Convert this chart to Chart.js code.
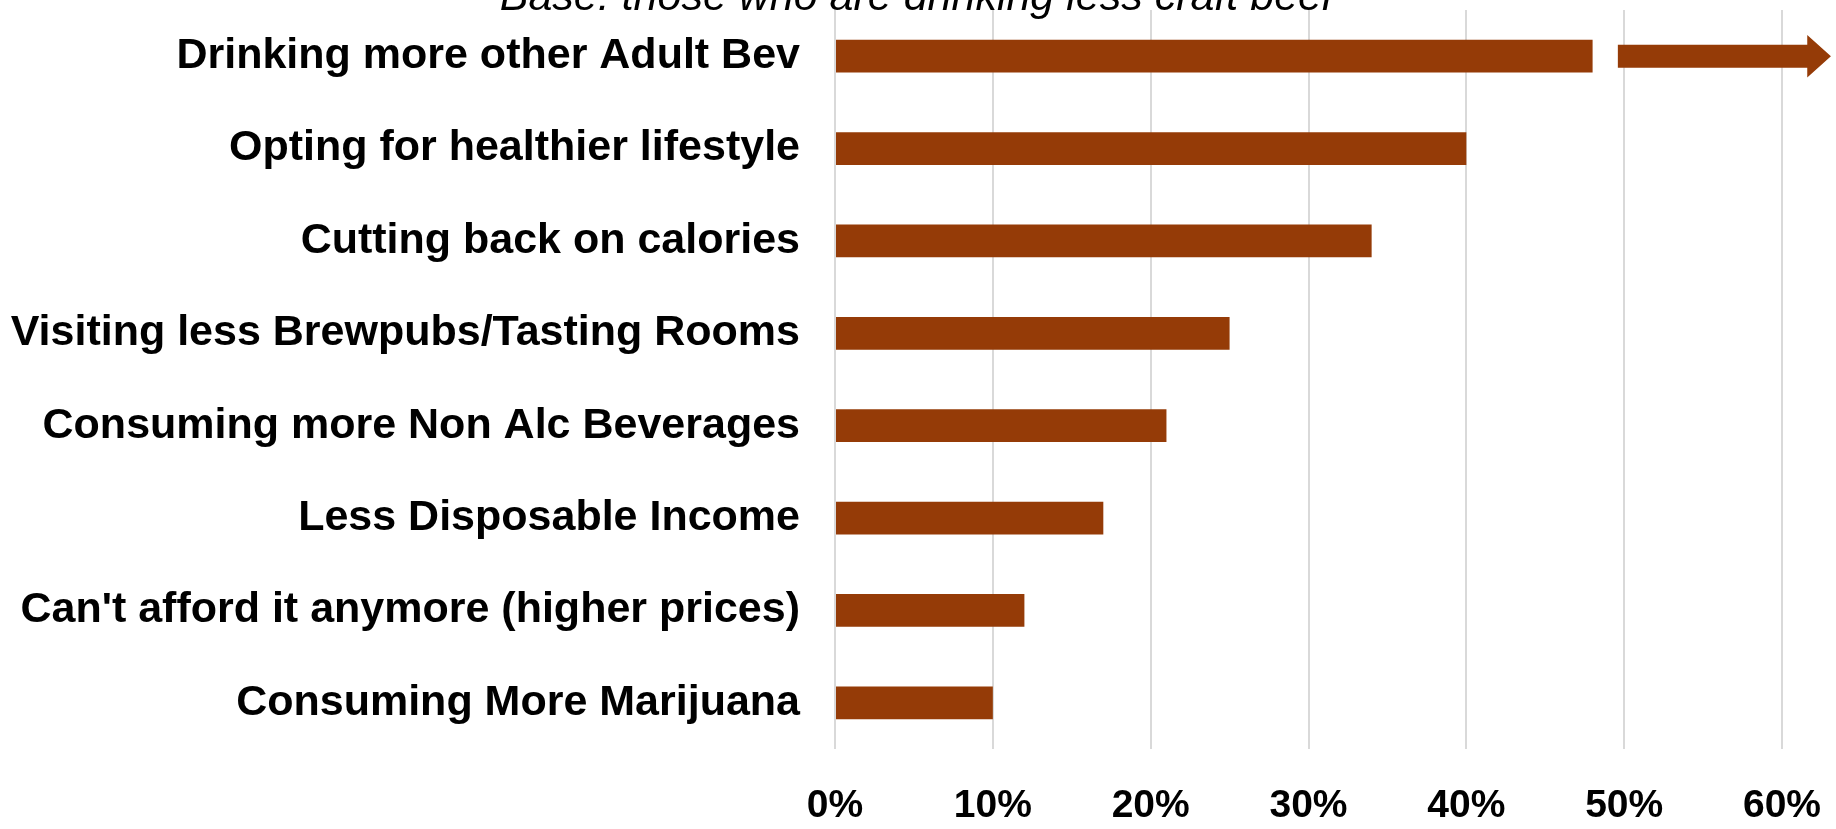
<!DOCTYPE html>
<html>
<head>
<meta charset="utf-8">
<script src="https://cdn.jsdelivr.net/npm/chart.js@4.4.1/dist/chart.umd.min.js"></script>
<style>
  html, body { margin: 0; padding: 0; background: #fff; overflow: hidden; }
  /* canvas is taller than the page and shifted up so the base line sits half out of view */
  #wrap { position: absolute; left: 0; top: -40px; width: 1836px; height: 869px; }
</style>
</head>
<body>
<div id="wrap"><canvas id="reasonsChart"></canvas></div>
<script>
// Reasons for drinking less craft beer
const categories = [
  'Drinking more other Adult Bev',
  'Opting for healthier lifestyle',
  'Cutting back on calories',
  'Visiting less Brewpubs/Tasting Rooms',
  'Consuming more Non Alc Beverages',
  'Less Disposable Income',
  "Can't afford it anymore (higher prices)",
  'Consuming More Marijuana'
];
const shares = [48, 40, 34, 25, 21, 17, 12, 10];
const tickValues = [0, 10, 20, 30, 40, 50, 60];
const baseText = 'Base: those who are drinking less craft beer';

const barColor = '#953b07';
const fontFamily = "'Liberation Sans', Arial, sans-serif";

// arrow trailing the top bar, in x-axis units
const trendArrow = {
  id: 'trendArrow',
  afterDatasetsDraw(chart, args, opts) {
    const bar = chart.getDatasetMeta(0).data[opts.index];
    if (!bar) return;
    const x = chart.scales.x;
    const ctx = chart.ctx;
    const x0 = x.getPixelForValue(opts.from);
    const xh = x.getPixelForValue(opts.head);
    const x1 = x.getPixelForValue(opts.to);
    const shaft = bar.height * opts.shaft / 2;
    const head = bar.height * opts.headSize / 2;
    const y = bar.y;
    ctx.save();
    ctx.fillStyle = opts.color;
    ctx.beginPath();
    ctx.moveTo(x0, y - shaft);
    ctx.lineTo(xh, y - shaft);
    ctx.lineTo(xh, y - head);
    ctx.lineTo(x1, y);
    ctx.lineTo(xh, y + head);
    ctx.lineTo(xh, y + shaft);
    ctx.lineTo(x0, y + shaft);
    ctx.closePath();
    ctx.fill();
    ctx.restore();
  }
};

const ctx = document.getElementById('reasonsChart').getContext('2d');
new Chart(ctx, {
  type: 'bar',
  data: {
    labels: categories,
    datasets: [{
      data: shares,
      backgroundColor: barColor,
      borderWidth: 0,
      categoryPercentage: 1,
      barPercentage: 0.355
    }]
  },
  plugins: [trendArrow],
  options: {
    indexAxis: 'y',
    responsive: true,
    maintainAspectRatio: false,
    animation: false,
    layout: { padding: { left: 0, right: 0, top: 0, bottom: 0 } },
    plugins: {
      legend: { display: false },
      tooltip: { enabled: false },
      title: {
        display: true,
        text: baseText,
        color: '#000',
        font: { family: fontFamily, size: 43, style: 'italic', weight: 'normal', lineHeight: 0.535 },
        padding: { top: 27, bottom: 0 }
      },
      trendArrow: {
        index: 0, from: 49.6, head: 61.6, to: 63.1,
        shaft: 0.7, headSize: 1.3, color: barColor
      }
    },
    scales: {
      x: {
        min: 0,
        max: 60,
        afterBuildTicks: (scale) => { scale.ticks = tickValues.map(v => ({ value: v })); },
        afterFit: (scale) => {
          scale.height = 80;
          scale.paddingLeft = 0;
          scale.paddingRight = 54;
        },
        grid: { color: '#d9d9d9', lineWidth: 2, drawTicks: false },
        border: { display: false },
        ticks: {
          padding: 34,
          color: '#000',
          font: { family: fontFamily, size: 39, weight: 'bold' },
          callback: (v) => v + '%'
        }
      },
      y: {
        afterFit: (scale) => {
          scale.width = 835;
          scale.paddingTop = 0;
          scale.paddingBottom = 0;
        },
        grid: { display: false, drawTicks: false },
        border: { display: false },
        ticks: {
          padding: 35,
          color: '#000',
          font: { family: fontFamily, size: 43, weight: 'bold' }
        }
      }
    }
  }
});
</script>
</body>
</html>
